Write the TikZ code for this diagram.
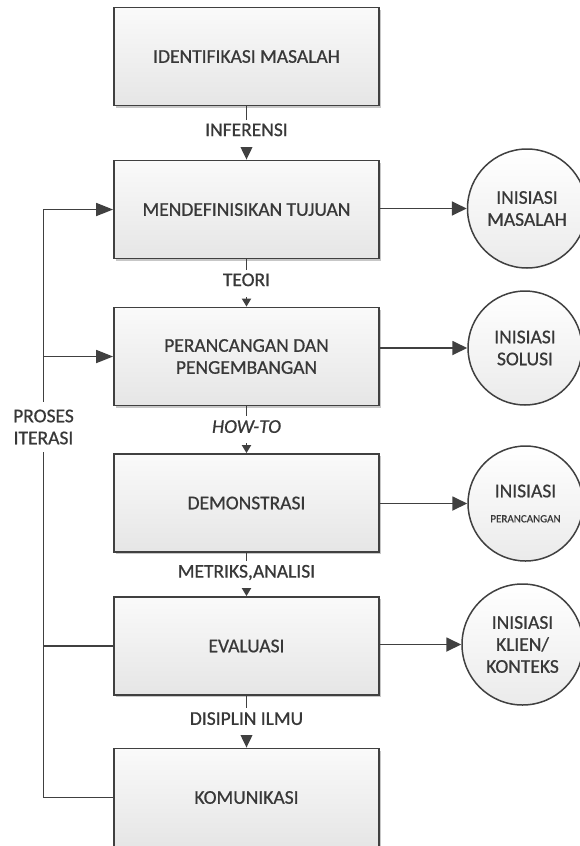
\documentclass[tikz,border=0pt]{standalone}
\usepackage{fontspec}
\setmainfont{Carlito}[RawFeature={embolden=0.7}]
\usetikzlibrary{arrows.meta,shadows}
\definecolor{ln}{HTML}{404040}
\definecolor{tx}{HTML}{383838}
\begin{document}
\begin{tikzpicture}[x=1pt,y=-1pt,
  font=\fontsize{19.5}{22}\selectfont, text=tx,
  box/.style={draw=ln, line width=1.8pt, top color=black!2, bottom color=black!10,
    minimum width=265pt, minimum height=98pt, inner sep=0pt, align=center,
    drop shadow={shadow xshift=2pt, shadow yshift=-2pt, opacity=0.22, fill=black}},
  circ/.style={circle, draw=ln, line width=1.5pt, top color=white, bottom color=black!8,
    inner sep=0pt, align=center},
  conn/.style={draw=ln, line width=1.8pt},
  bigtip/.style={-{Triangle[length=15pt,width=14pt]}},
  sidetip/.style={-{Triangle[length=17pt,width=13pt]}},
  smalltip/.style={-{Triangle[length=8pt,width=9pt]}},
  lbl/.style={fill=white, inner sep=0pt, inner xsep=2pt, minimum height=27pt, text height=0.62em, text depth=0pt}
]
\useasboundingbox (0,0) rectangle (580,846);
\clip (0,0) rectangle (580,846);

% process boxes
\node[box] (b1) at (246.5,56.5)  {IDENTIFIKASI MASALAH};
\node[box] (b2) at (246.5,209.5) {MENDEFINISIKAN TUJUAN};
\node[box] (b3) at (246.5,356.5) {PERANCANGAN DAN\\PENGEMBANGAN};
\node[box] (b4) at (246.5,503)   {DEMONSTRASI};
\node[box] (b5) at (246.5,646)   {EVALUASI};
\node[box] (b6) at (246.5,797.5) {KOMUNIKASI};

% circles
\node[circ, minimum size=119pt] (c1) at (527,208.5) {INISIASI\\MASALAH};
\node[circ, minimum size=114pt] (c2) at (525,348) {INISIASI\\SOLUSI};
\node[circ, minimum size=115pt] (c3) at (525.5,503.5) {INISIASI\\[3pt]{\fontsize{11}{13}\selectfont PERANCANGAN}};
\node[circ, minimum size=121pt] (c4) at (522.5,644.5) {INISIASI\\KLIEN/\\KONTEKS};

% vertical connectors
\draw[conn,bigtip]   (b1) -- node[lbl]{INFERENSI} (b2);
\draw[conn,smalltip] (b2) -- node[lbl]{TEORI} (b3);
\draw[conn,smalltip] (b3) -- node[lbl]{\itshape HOW-TO} (b4);
\draw[conn,smalltip] (b4) -- node[lbl]{METRIKS,ANALISI} (b5);
\draw[conn,bigtip]   (b5) -- node[lbl]{DISIPLIN ILMU} (b6);

% iteration loop
\node[align=center, inner sep=0pt, minimum height=50pt] (iter) at (43.5,427) {PROSES\\ITERASI};
\draw[conn,sidetip] (iter.north) |- (b2.west);
\draw[conn,sidetip] (iter.north) |- (b3.west);
\draw[conn] (iter.south) |- (b5.west);
\draw[conn] (iter.south) |- (b6.west);

% outputs
\draw[conn,bigtip] (b2.east |- c1.west) -- (c1.west);
\draw[conn,bigtip] (b3.east |- c2.west) -- (c2.west);
\draw[conn,bigtip] (b4.east |- c3.west) -- (c3.west);
\draw[conn,bigtip] (b5.east |- c4.west) -- (c4.west);
\end{tikzpicture}
\end{document}
